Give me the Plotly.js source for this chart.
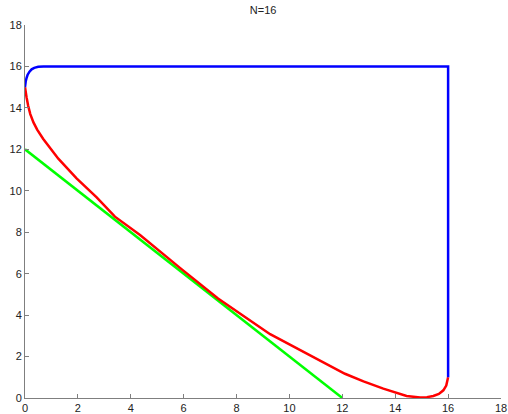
<!DOCTYPE html>
<html>
<head>
<meta charset="utf-8">
<script src="https://cdn.plot.ly/plotly-3.0.1.min.js"></script>
<style>html,body{margin:0;padding:0;background:#fff;}#chart{width:508px;height:414px;}</style>
</head>
<body>
<div id="chart"></div>
<script>
// Blue boundary (upper-left corner arc, top edge, right edge)
const blueX = [0, 0.01, 0.03, 0.06, 0.1, 0.17, 0.25, 0.35, 0.5, 0.7, 16, 16];
const blueY = [15.0, 15.15, 15.3, 15.45, 15.6, 15.75, 15.86, 15.93, 15.98, 16.0, 16.0, 1.0];

// Red curve
const redX = [0, 0.02, 0.06, 0.12, 0.2, 0.32, 0.46, 0.69, 1.26, 1.95, 2.71, 3.4, 4.35, 5.86, 7.3, 9.27, 11.16, 12.1, 12.8, 13.55, 14.43, 14.7, 14.94, 15.2, 15.44, 15.65, 15.82, 15.93, 15.98, 16.0];
const redY = [15.0, 14.8, 14.5, 14.1, 13.7, 13.3, 12.95, 12.5, 11.55, 10.6, 9.68, 8.75, 7.87, 6.28, 4.8, 3.08, 1.8, 1.17, 0.8, 0.45, 0.1, 0.04, 0.02, 0.04, 0.1, 0.2, 0.37, 0.6, 0.8, 1.0];

// Green line
const greenX = [0, 12];
const greenY = [12, 0];

const tickVals = [0, 2, 4, 6, 8, 10, 12, 14, 16, 18];
const tickText = ['0', '2', '4', '6', '8', '10', '12', '14', '16', '18'];
const titleText = 'N=16';

const traces = [
  {x: greenX, y: greenY, mode: 'lines', line: {color: '#00ff00', width: 2.5}, hoverinfo: 'skip'},
  {x: redX, y: redY, mode: 'lines', line: {color: '#ff0000', width: 2.5}, hoverinfo: 'skip'},
  {x: blueX, y: blueY, mode: 'lines', line: {color: '#0000ff', width: 2.5}, hoverinfo: 'skip'}
];

const axisCommon = {
  range: [0, 18],
  tickvals: tickVals,
  ticktext: tickText,
  ticks: 'inside',
  ticklen: 4,
  tickwidth: 1,
  tickcolor: '#7f7f7f',
  showline: true,
  linecolor: '#7f7f7f',
  linewidth: 1,
  showgrid: false,
  zeroline: false,
  automargin: false,
  tickfont: {family: 'Liberation Sans, Arial, sans-serif', size: 11, color: '#222'}
};

const layout = {
  width: 508,
  height: 414,
  margin: {l: 25, r: 7, t: 25, b: 16, pad: 0},
  paper_bgcolor: '#ffffff',
  plot_bgcolor: '#ffffff',
  showlegend: false,
  title: {text: titleText, x: 0.518, xanchor: 'center', y: 0.976, yanchor: 'middle', yref: 'container',
          font: {family: 'Liberation Sans, Arial, sans-serif', size: 11, color: '#222'}},
  xaxis: Object.assign({}, axisCommon),
  yaxis: Object.assign({}, axisCommon)
};

Plotly.newPlot('chart', traces, layout, {staticPlot: true, displayModeBar: false});
</script>
</body>
</html>
